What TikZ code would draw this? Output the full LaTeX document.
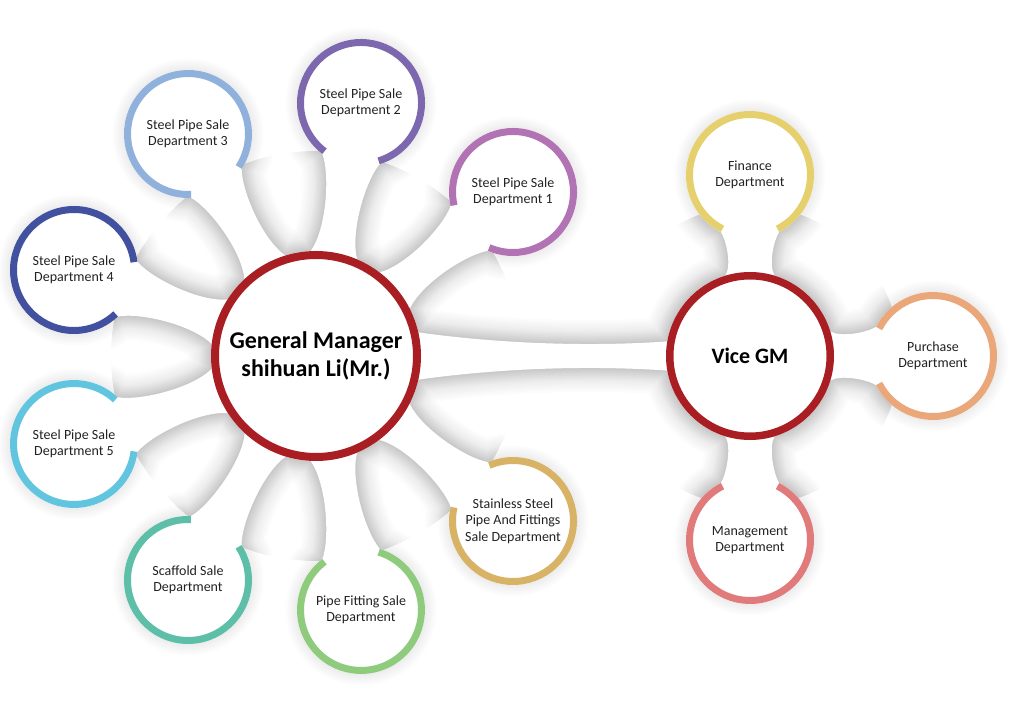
\documentclass[tikz,border=0pt]{standalone}
\usepackage{fontspec}
\setmainfont{Carlito}
\usetikzlibrary{calc,backgrounds}
\definecolor{gmred}{HTML}{A91E23}
\definecolor{cA}{HTML}{B173B3}% dept 1
\definecolor{cB}{HTML}{7D68B0}% dept 2
\definecolor{cC}{HTML}{8FB1DC}% dept 3
\definecolor{cD}{HTML}{41509F}% dept 4
\definecolor{cE}{HTML}{62C5DF}% dept 5
\definecolor{cF}{HTML}{5EBFA8}% scaffold
\definecolor{cG}{HTML}{8FCB7D}% pipe fitting
\definecolor{cH}{HTML}{D8B366}% stainless
\definecolor{cI}{HTML}{E6D06D}% finance
\definecolor{cJ}{HTML}{E9A77A}% purchase
\definecolor{cK}{HTML}{E07A7B}% management
\definecolor{txt}{HTML}{222222}
\newcommand\mkstem[7]{%
  \pgfmathanglebetweenpoints{\pgfpointanchor{#2}{center}}{\pgfpointanchor{#3}{center}}%
  \let\myang\pgfmathresult
  \path (#2.center) ++(\myang+#6:#4) coordinate (#1-p1) ++(\myang-\aone:\kone) coordinate (#1-c1)
        (#2.center) ++(\myang-#6:#4) coordinate (#1-p2) ++(\myang+\aone:\kone) coordinate (#1-c4)
        (#3.center) ++(\myang+180-#7:#5) coordinate (#1-q1) ++(\myang+180+\atwo:\ktwo) coordinate (#1-c2)
        (#3.center) ++(\myang+180+#7:#5) coordinate (#1-q2) ++(\myang+180-\atwo:\ktwo) coordinate (#1-c3);}
\newcommand\stempath[1]{(#1-p1) .. controls (#1-c1) and (#1-c2) .. (#1-q1) -- (#1-q2) .. controls (#1-c3) and (#1-c4) .. (#1-p2) -- cycle}
\newcommand\ringarc[5]{%
  \pgfmathanglebetweenpoints{\pgfpointanchor{#1}{center}}{\pgfpointanchor{#2}{center}}%
  \let\myang\pgfmathresult
  \draw[ring,#3] (#1.center) ++(\myang+#5:#4) arc[start angle=\myang+#5, end angle=\myang-#5+360, radius=#4];}
\begin{document}
\begin{tikzpicture}[x=1pt,y=1pt,
  small/.style={align=center, text=txt, font=\fontsize{14}{16.5}\selectfont, inner sep=0pt},
  title/.style={align=center, text=black, font=\bfseries\fontsize{24}{28}\selectfont, inner sep=0pt},
  ring/.style={line width=7pt, line cap=butt}]
\useasboundingbox (0,0) rectangle (1025,704);
% text nodes
\node[title] (gm) at (316,348) {General Manager\\shihuan Li(Mr.)};
\node[title, font=\bfseries\fontsize{22}{26}\selectfont] (vgm) at (750,348) {Vice GM};
\node[small] (d1) at (513,512) {Steel Pipe Sale\\Department 1};
\node[small] (d2) at (361,601) {Steel Pipe Sale\\Department 2};
\node[small] (d3) at (188,570) {Steel Pipe Sale\\Department 3};
\node[small] (d4) at (74,434) {Steel Pipe Sale\\Department 4};
\node[small] (d5) at (74,260) {Steel Pipe Sale\\Department 5};
\node[small] (sc) at (188,124) {Scaffold Sale\\Department};
\node[small] (pf) at (361,94) {Pipe Fitting Sale\\Department};
\node[small] (ss) at (513,183) {Stainless Steel\\Pipe And Fittings\\Sale Department};
\node[small] (fi) at (750,529) {Finance\\Department};
\node[small] (pu) at (933,348) {Purchase\\Department};
\node[small] (ma) at (750,164) {Management\\Department};
% stems
\def\aone{30}\def\kone{22}\def\atwo{25}\def\ktwo{28}
\mkstem{s1}{d1}{gm}{64}{105}{27}{13}
\mkstem{s2}{d2}{gm}{64}{105}{27}{13}
\mkstem{s3}{d3}{gm}{64}{105}{27}{13}
\mkstem{s4}{d4}{gm}{64}{105}{27}{13}
\mkstem{s5}{d5}{gm}{64}{105}{27}{13}
\mkstem{s6}{sc}{gm}{64}{105}{27}{13}
\mkstem{s7}{pf}{gm}{64}{105}{27}{13}
\mkstem{s8}{ss}{gm}{64}{105}{27}{13}
\def\aone{30}\def\kone{12}\def\atwo{30}\def\ktwo{12}
\mkstem{s9}{fi}{vgm}{64}{84}{27}{17}
\mkstem{s10}{pu}{vgm}{64}{84}{27}{17}
\mkstem{s11}{ma}{vgm}{64}{84}{27}{17}
\def\aone{4}\def\kone{80}\def\atwo{8}\def\ktwo{80}
\mkstem{s0}{vgm}{gm}{84}{105}{10}{13}
\def\allshapes{(gm.center) circle[radius=105] (vgm.center) circle[radius=84]
  (d1.center) circle[radius=64] (d2.center) circle[radius=64] (d3.center) circle[radius=64]
  (d4.center) circle[radius=64] (d5.center) circle[radius=64] (sc.center) circle[radius=64]
  (pf.center) circle[radius=64] (ss.center) circle[radius=64] (fi.center) circle[radius=64]
  (pu.center) circle[radius=64] (ma.center) circle[radius=64]
  \stempath{s0} \stempath{s1} \stempath{s2} \stempath{s3} \stempath{s4} \stempath{s5}
  \stempath{s6} \stempath{s7} \stempath{s8} \stempath{s9} \stempath{s10} \stempath{s11}}
\begin{scope}[on background layer]
  \fill[white] (0,0) rectangle (1025,704);
  % faint drop shadow everywhere
  \foreach \w in {3,7,11,15,19,23}{
    \draw[line width=\w pt, black, opacity=0.012, line join=round, shift={(4,-5)}] \allshapes;}
  % soft shading in the hollows between the stems
  \begin{scope}
    \clip (gm.center) circle[radius=205] (vgm.center) circle[radius=150]
          (533,348) ellipse[x radius=160, y radius=48];
    \foreach \w in {4,8,...,48}{
      \draw[line width=\w pt, black, opacity=0.011, line join=round, shift={(1,-2)}] \allshapes;}
  \end{scope}
  \foreach \n in {s0,s1,s2,s3,s4,s5,s6,s7,s8,s9,s10,s11}{\fill[white] \stempath{\n};}
  \fill[white] (gm.center) circle[radius=105];
  \fill[white] (vgm.center) circle[radius=84];
  \foreach \n in {d1,d2,d3,d4,d5,sc,pf,ss,fi,pu,ma}{\fill[white] (\n.center) circle[radius=64];}
  \draw[gmred, line width=8pt] (gm.center) circle[radius=101];
  \draw[gmred, line width=7.5pt] (vgm.center) circle[radius=80.25];
  \ringarc{d1}{gm}{cA}{60.5}{27}
  \ringarc{d2}{gm}{cB}{60.5}{27}
  \ringarc{d3}{gm}{cC}{60.5}{27}
  \ringarc{d4}{gm}{cD}{60.5}{27}
  \ringarc{d5}{gm}{cE}{60.5}{27}
  \ringarc{sc}{gm}{cF}{60.5}{27}
  \ringarc{pf}{gm}{cG}{60.5}{27}
  \ringarc{ss}{gm}{cH}{60.5}{27}
  \ringarc{fi}{vgm}{cI}{60.5}{27}
  \ringarc{pu}{vgm}{cJ}{60.5}{27}
  \ringarc{ma}{vgm}{cK}{60.5}{27}
\end{scope}
\end{tikzpicture}
\end{document}
